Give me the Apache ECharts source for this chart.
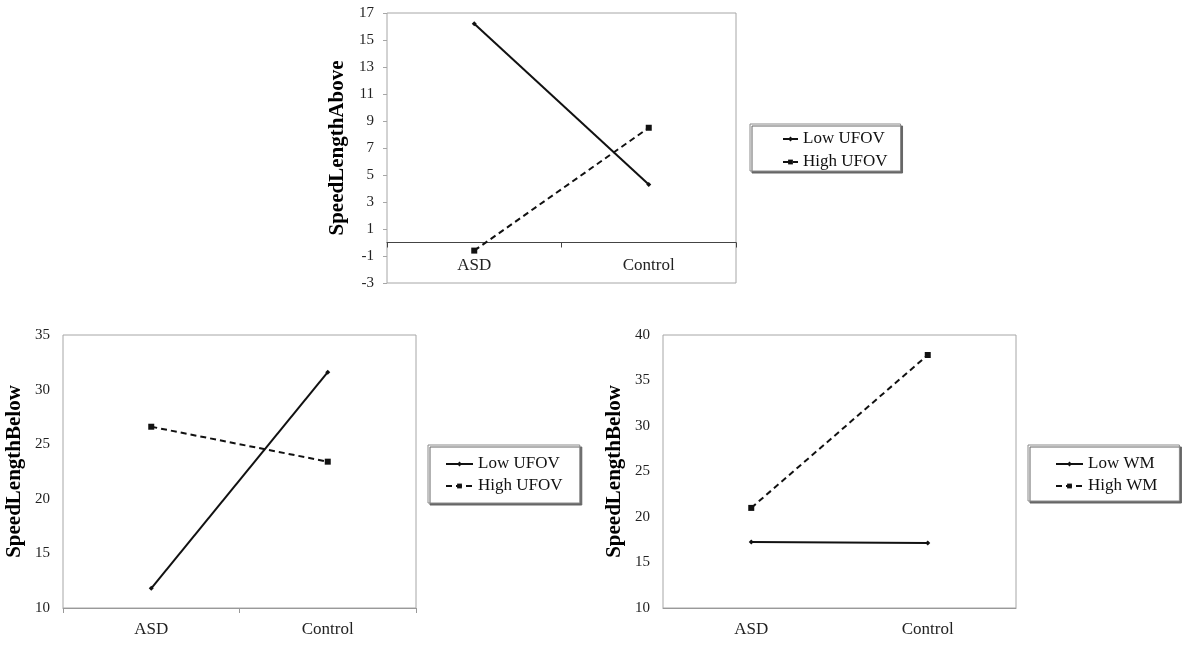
<!DOCTYPE html>
<html>
<head>
<meta charset="utf-8">
<script src="https://cdn.jsdelivr.net/npm/echarts@6/dist/echarts.min.js"></script>
<style>
html,body{margin:0;padding:0;background:#fff;}
#chart{width:1185px;height:645px;}
</style>
</head>
<body>
<div id="chart"></div>
<script>
// Data
const categories = ['ASD', 'Control'];
// Top panel: SpeedLengthAbove by UFOV
const topLowUFOV = [16.2, 4.3];
const topHighUFOV = [-0.6, 8.5];
// Bottom-left panel: SpeedLengthBelow by UFOV
const blLowUFOV = [11.8, 31.6];
const blHighUFOV = [26.6, 23.4];
// Bottom-right panel: SpeedLengthBelow by WM
const brLowWM = [17.25, 17.15];
const brHighWM = [21.0, 37.8];

const titleTop = 'SpeedLengthAbove';
const titleBottom = 'SpeedLengthBelow';

const FONT = 'Liberation Serif';
const black = '#111';
const boxColor = '#a6a6a6';

function lowSeries(name, xi, data) {
  return {
    name: name, type: 'line', xAxisIndex: xi, yAxisIndex: xi, data: data,
    symbol: 'diamond', symbolSize: 5, showSymbol: true,
    lineStyle: { color: black, width: 2, type: 'solid' },
    itemStyle: { color: black },
    emphasis: { disabled: true }, animation: false, z: 3
  };
}
function highSeries(name, xi, data) {
  return {
    name: name, type: 'line', xAxisIndex: xi, yAxisIndex: xi, data: data,
    symbol: 'rect', symbolSize: 6, showSymbol: true,
    lineStyle: { color: black, width: 2, type: [6, 4] },
    itemStyle: { color: black },
    emphasis: { disabled: true }, animation: false, z: 3
  };
}
function xAx(gi, axisColor, showTick, margin) {
  return {
    type: 'category', gridIndex: gi, data: categories, boundaryGap: true,
    axisLine: { show: true, onZero: true, lineStyle: { color: axisColor, width: 1 } },
    axisTick: { show: showTick, length: 5, lineStyle: { color: axisColor } },
    axisLabel: { fontFamily: FONT, fontSize: 17, color: '#222', margin: margin },
    splitLine: { show: false }
  };
}
function yAx(gi, min, max, interval, name, ticks) {
  return {
    type: 'value', gridIndex: gi, min: min, max: max, interval: interval,
    name: name, nameLocation: 'middle', nameRotate: 90, nameGap: 38,
    nameTextStyle: { fontFamily: FONT, fontWeight: 'bold', fontSize: 21, color: '#000' },
    axisLine: { show: false },
    axisTick: { show: ticks, length: 4, lineStyle: { color: boxColor } },
    axisLabel: { fontFamily: FONT, fontSize: 15, color: '#222', margin: 13 },
    splitLine: { show: false }
  };
}
function legend(names, left, top, padding, itemWidth, gap) {
  return {
    data: names, orient: 'vertical', left: left, top: top, padding: padding,
    itemWidth: itemWidth, itemHeight: 6, itemGap: gap,
    textStyle: { fontFamily: FONT, fontSize: 17, color: '#111', lineHeight: 18 },
    backgroundColor: '#fff', borderColor: '#8a8a8a', borderWidth: 1,
    shadowColor: '#666', shadowOffsetX: 2, shadowOffsetY: 2, shadowBlur: 0,
    selectedMode: false
  };
}

const chart = echarts.init(document.getElementById('chart'), null, { renderer: 'canvas' });
chart.setOption({
  backgroundColor: '#fff',
  animation: false,
  grid: [
    { left: 387, top: 13, width: 349, height: 270, show: true, borderColor: boxColor, borderWidth: 1, backgroundColor: 'transparent' },
    { left: 63, top: 335, width: 353, height: 273, show: true, borderColor: boxColor, borderWidth: 1, backgroundColor: 'transparent' },
    { left: 663, top: 335, width: 353, height: 273, show: true, borderColor: boxColor, borderWidth: 1, backgroundColor: 'transparent' }
  ],
  xAxis: [
    xAx(0, '#444', true, -26),
    xAx(1, '#999', true, 13),
    xAx(2, '#999', false, 13)
  ],
  yAxis: [
    Object.assign(yAx(0, -3, 17, 2, titleTop, true), { nameGap: 39 }),
    yAx(1, 10, 35, 5, titleBottom, false),
    yAx(2, 10, 40, 5, titleBottom, false)
  ],
  legend: [
    legend(['Low UFOV', 'High UFOV'], 750, 124, [6, 13, 0, 32], 15, 5),
    legend([{ name: 'Low UFOV ' }, { name: 'High UFOV ' }], 428, 445, [10, 13, 8, 17], 27, 4),
    legend(['Low WM', 'High WM'], 1028, 445, [10, 22, 6, 27], 27, 4)
  ],
  series: [
    lowSeries('Low UFOV', 0, topLowUFOV),
    highSeries('High UFOV', 0, topHighUFOV),
    lowSeries('Low UFOV ', 1, blLowUFOV),
    highSeries('High UFOV ', 1, blHighUFOV),
    lowSeries('Low WM', 2, brLowWM),
    highSeries('High WM', 2, brHighWM)
  ]
});
</script>
</body>
</html>
